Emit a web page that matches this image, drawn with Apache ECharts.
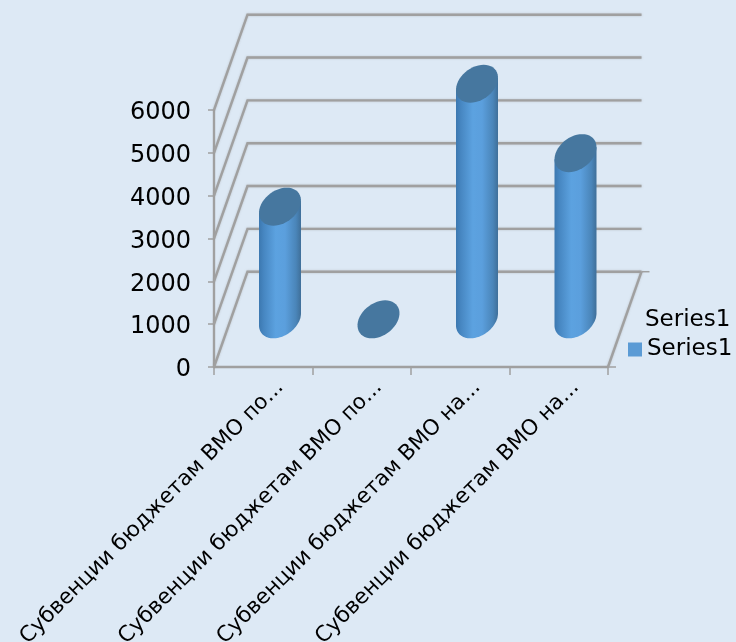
<!DOCTYPE html>
<html><head><meta charset="utf-8">
<style>html,body{margin:0;padding:0;background:#dde9f5}#c{width:736px;height:642px}</style>
<script src="https://cdn.jsdelivr.net/npm/echarts@6/dist/echarts.min.js"></script>
</head><body><div id="c"></div>
<script>
const categories = ['Субвенции бюджетам ВМО по...','Субвенции бюджетам ВМО по...','Субвенции бюджетам ВМО на...','Субвенции бюджетам ВМО на...'];
const seriesValues = [2630, 0, 5500, 3880];
const yTicks = [0,1000,2000,3000,4000,5000,6000];
const seriesName = 'Series1';
const DX = 33.5, DY = -95.3, GRID = '#a0a0a0';
const FONT = '"DejaVu Sans", Verdana, sans-serif';
const chart = echarts.init(document.getElementById('c'));

function wall(params, api){
  const v = api.value(1);
  const band = api.size([1,0])[0];
  const p0 = api.coord([0,v]);
  const pEnd = api.coord([categories.length-1,v]);
  const x0 = p0[0]-band/2, x1 = pEnd[0]+band/2, y = p0[1];
  const style = {stroke:GRID, lineWidth:2.4, fill:null, shadowBlur:2, shadowColor:'rgba(150,150,150,0.5)'};
  const thin = {stroke:GRID,lineWidth:1.5};
  const kids = [{type:'polyline',shape:{points:[[x0,y],[x0+DX,y+DY],[x1+DX,y+DY]]},style}];
  if(v===0){
    kids.push({type:'line',shape:{x1:x1,y1:y,x2:x1+DX,y2:y+DY},style});
    kids.push({type:'line',shape:{x1:x1+DX,y1:y+DY,x2:x1+DX+8,y2:y+DY},style:thin});
    kids.push({type:'line',shape:{x1:x1,y1:y,x2:x1+8,y2:y},style:thin});
  }
  return {type:'group',children:kids};
}
function cylinder(params, api){
  const A=19.9,B=6.7,C=19;
  const idx=api.value(0), val=api.value(1);
  const base=api.coord([idx,0]), top=api.coord([idx,val]);
  const cx=base[0]+DX/2, by=base[1]+DY/2, ty=top[1]+DY/2;
  const pt=(t,cy)=>[cx+A*Math.cos(t)+B*Math.sin(t), cy-C*Math.sin(t)];
  const t0=Math.atan2(B,A), N=48;
  const ell=[]; for(let i=0;i<N;i++){ell.push(pt(i/N*2*Math.PI,ty));}
  const kids=[];
  if(val>0){
    const body=[pt(t0,ty)];
    for(let i=0;i<=N;i++){body.push(pt(t0-Math.PI*i/N,by));}
    body.push(pt(t0+Math.PI,ty));
    kids.push({type:'polygon',shape:{points:body},style:{fill:{type:'linear',x:0,y:0,x2:1,y2:0,colorStops:[
      {offset:0,color:'#3c78b0'},{offset:0.12,color:'#4787c2'},{offset:0.4,color:'#5ca2e0'},{offset:0.62,color:'#5b9fdd'},{offset:0.88,color:'#4a85b9'},{offset:1,color:'#3f6f99'}]}}});
  }
  kids.push({type:'polygon',shape:{points:ell},style:{fill:'#46779f'}});
  return {type:'group',children:kids};
}
chart.setOption({
  backgroundColor:'#dde9f5',
  animation:false,
  textStyle:{fontFamily:FONT},
  title:{text:seriesName,left:645,top:309,padding:0,textStyle:{fontFamily:FONT,fontSize:23,fontWeight:'normal',color:'#000'}},
  legend:{data:[seriesName],left:628,top:338,padding:0,itemWidth:14,itemHeight:14,icon:'rect',itemGap:0,
    textStyle:{fontFamily:FONT,fontSize:23,color:'#000',padding:[0,0,0,0]}},
  grid:{left:214,right:128,top:110,bottom:275,containLabel:false,outerBoundsMode:'none'},
  xAxis:{type:'category',data:categories,boundaryGap:true,
    axisLine:{show:true,lineStyle:{color:GRID,width:2.4}},
    axisTick:{show:true,alignWithLabel:false,length:8,lineStyle:{color:GRID,width:1.5}},
    axisLabel:{show:true,interval:0,rotate:45,margin:0,align:'right',verticalAlign:'top',lineHeight:48,fontSize:21.5,fontFamily:FONT,color:'#000',hideOverlap:false}},
  yAxis:{type:'value',min:0,max:6000,interval:1000,
    axisLine:{show:true,lineStyle:{color:GRID,width:2.4}},
    axisTick:{show:true,length:6,lineStyle:{color:GRID,width:1.5}},
    splitLine:{show:false},
    axisLabel:{margin:23,fontSize:24,fontFamily:FONT,color:'#000',formatter:v=>String(v),verticalAlign:'top',lineHeight:6,
      customValues:yTicks}},
  series:[
    {type:'custom',name:'walls',coordinateSystem:'cartesian2d',renderItem:wall,clip:false,silent:true,z:1,
      encode:{x:0,y:1},data:yTicks.map(v=>[0,v])},
    {type:'custom',name:seriesName,coordinateSystem:'cartesian2d',renderItem:cylinder,clip:false,z:2,
      itemStyle:{color:'#5b9bd5'},encode:{x:0,y:1},data:seriesValues.map((v,i)=>[i,v])}
  ]
});
</script></body></html>
